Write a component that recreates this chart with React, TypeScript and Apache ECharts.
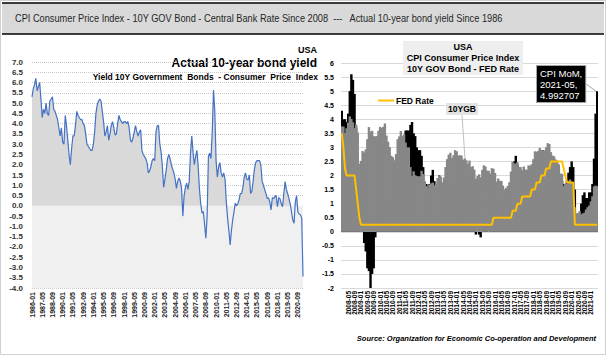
import React, { useEffect, useRef } from 'react';
import * as echarts from 'echarts';

const TITLE = 'CPI Consumer Price Index - 10Y GOV Bond - Central Bank Rate Since 2008  ---   Actual 10-year bond yield Since 1986';
const NARROW = '"Liberation Sans Narrow", "Liberation Sans", Arial, sans-serif';

function monthLabels(y0: number, count: number, step: number): string[] {
  const out: string[] = [];
  for (let i = 0; i < count; i++) {
    const m = i * step;
    const y = y0 + Math.floor(m / 12);
    const mm = (m % 12) + 1;
    out.push(`${y}-${mm < 10 ? '0' + mm : mm}`);
  }
  return out;
}

// Left chart: actual (real) 10-year bond yield, bimonthly 1986-01 .. 2021-05
const realYieldCategories = monthLabels(1986, 213, 2);
const realYield = [
  5.3, 5.7, 5.9, 6.2, 5.6, 5.8,
  6.0, 5.2, 4.3, 4.7, 4.5, 5.0,
  4.5, 4.4, 5.1, 5.2, 5.3, 4.7,
  4.6, 4.4, 4.2, 3.8, 3.4, 3.8,
  3.1, 3.0, 4.4, 3.9, 3.2, 2.5,
  2.0, 2.8, 3.4, 3.4, 3.9, 4.6,
  4.4, 4.3, 4.2, 4.2, 4.0, 3.9,
  3.5, 3.0, 2.9, 2.8, 2.7, 2.7,
  3.0, 3.6, 4.5, 4.9, 5.1, 5.2,
  5.1, 4.6, 4.1, 3.4, 3.6, 3.9,
  3.2, 3.5, 3.9, 4.1, 3.8, 3.45,
  3.5, 4.0, 4.4, 4.2, 4.1, 4.0,
  4.1, 4.1, 4.0, 4.1, 3.8, 3.2,
  3.1, 3.3, 3.6, 3.9, 3.6, 3.4,
  3.6, 3.7, 2.7, 2.5, 2.4, 2.3,
  2.1, 1.6, 1.7, 1.9, 2.2, 2.3,
  2.2, 3.6, 3.9, 3.9, 3.0, 2.6,
  1.9, 0.9, 1.3, 1.75, 2.3, 2.5,
  2.3, 2.0, 1.8, 1.6, 1.3, 0.85,
  1.2, 1.35, 1.2, 0.85, -0.5, 0.5,
  0.9, 1.1, 0.8, 1.2, 2.6, 3.4,
  2.6, 2.0, 2.4, 2.7, 1.9, 0.8,
  0.1, -0.36, -0.28, -0.9, -1.58, -0.5,
  2.4, 2.56, 2.3, 3.6, 5.64, 4.6,
  2.2, 1.4, 1.9, 2.1, 1.6, 1.4,
  1.6, 1.3, 0.2, -0.6, -1.2, -1.9,
  -1.2, -0.7, -0.3, 0.13, 0.0, 0.1,
  0.3, 0.6, 0.6, 0.9, 1.4, 1.6,
  1.3, 1.25, 1.5, 0.6, 0.7, 1.2,
  1.8, 2.1, 2.2, 2.2, 2.2, 2.0,
  1.2, 1.0, 0.8, 0.6, 0.35, 0.4,
  0.2, -0.2, 0.4, 0.35, 0.45, 0.5,
  -0.04, 0.4, 0.35, 0.1, -0.04, 0.6,
  1.18, 0.8, 0.6, 0.35, 0.1, -0.3,
  -0.69, -0.85, 0.2, 0.5, -0.3, -0.4,
  -0.44, -0.6, -3.44,
];

// Right chart: monthly 2008-01 .. 2021-05
const usCategories = monthLabels(2008, 161, 1);
const cpiYoY = [
  4.3, 4.0, 4.0, 3.9, 4.2, 5.0, 5.6, 5.4, 4.9, 3.7, 1.1, 0.1,
  0.0, 0.2, -0.4, -0.7, -1.3, -1.4, -2.1, -1.5, -1.3, -0.2, 1.8, 2.7,
  2.6, 2.1, 2.3, 2.2, 2.0, 1.1, 1.2, 1.1, 1.1, 1.2, 1.1, 1.5,
  1.6, 2.1, 2.7, 3.2, 3.6, 3.6, 3.6, 3.8, 3.9, 3.5, 3.4, 3.0,
  2.9, 2.9, 2.7, 2.3, 1.7, 1.7, 1.4, 1.7, 2.0, 2.2, 1.8, 1.7,
  1.6, 2.0, 1.5, 1.1, 1.4, 1.8, 2.0, 1.5, 1.2, 1.0, 1.2, 1.5,
  1.6, 1.1, 1.5, 2.0, 2.1, 2.1, 2.0, 1.7, 1.7, 1.7, 1.3, 0.8,
  -0.1, 0.0, -0.1, -0.2, 0.0, 0.1, 0.2, 0.2, 0.0, 0.2, 0.5, 0.7,
  1.4, 1.0, 0.9, 1.1, 1.0, 1.0, 0.8, 1.1, 1.5, 1.6, 1.7, 2.1,
  2.5, 2.7, 2.4, 2.2, 1.9, 1.6, 1.7, 1.9, 2.2, 2.0, 2.2, 2.1,
  2.1, 2.2, 2.4, 2.5, 2.8, 2.9, 2.9, 2.7, 2.3, 2.5, 2.2, 1.9,
  1.6, 1.5, 1.9, 2.0, 1.8, 1.6, 1.8, 1.7, 1.7, 1.8, 2.1, 2.3,
  2.5, 2.3, 1.5, 0.3, 0.1, 0.6, 1.0, 1.3, 1.4, 1.2, 1.2, 1.4,
  1.4, 1.7, 2.6, 4.2, 4.992707,
];
const bond10Y = [
  3.74, 3.74, 3.51, 3.68, 3.88, 4.10, 4.01, 3.89, 3.69, 3.81, 3.53, 2.42,
  2.52, 2.87, 2.82, 2.93, 3.29, 3.72, 3.56, 3.59, 3.40, 3.39, 3.40, 3.59,
  3.73, 3.69, 3.73, 3.85, 3.42, 3.20, 3.01, 2.70, 2.65, 2.54, 2.76, 3.29,
  3.39, 3.58, 3.41, 3.46, 3.17, 3.00, 3.00, 2.30, 1.98, 2.15, 2.01, 1.98,
  1.97, 1.97, 2.17, 2.05, 1.80, 1.62, 1.53, 1.68, 1.72, 1.75, 1.65, 1.72,
  1.91, 1.98, 1.96, 1.76, 1.93, 2.30, 2.58, 2.74, 2.81, 2.62, 2.72, 2.90,
  2.86, 2.71, 2.72, 2.71, 2.56, 2.60, 2.54, 2.42, 2.53, 2.30, 2.33, 2.21,
  1.88, 1.98, 2.04, 1.94, 2.20, 2.36, 2.32, 2.17, 2.17, 2.07, 2.26, 2.24,
  2.09, 1.78, 1.89, 1.81, 1.81, 1.64, 1.50, 1.56, 1.63, 1.76, 2.14, 2.49,
  2.43, 2.42, 2.48, 2.30, 2.30, 2.19, 2.32, 2.21, 2.20, 2.36, 2.35, 2.40,
  2.58, 2.86, 2.84, 2.87, 2.98, 2.91, 2.89, 2.89, 3.00, 3.15, 3.12, 2.83,
  2.71, 2.68, 2.57, 2.53, 2.40, 2.07, 2.06, 1.63, 1.70, 1.71, 1.81, 1.86,
  1.76, 1.50, 0.87, 0.66, 0.67, 0.73, 0.62, 0.65, 0.68, 0.79, 0.87, 0.93,
  1.08, 1.26, 1.61, 1.64, 1.62,
];
const fedRate = [
  3.5, 3.0, 2.25, 2.0, 2.0, 2.0, 2.0, 2.0, 2.0, 1.5, 1.0, 0.5,
  0.25, 0.25, 0.25, 0.25, 0.25, 0.25, 0.25, 0.25, 0.25, 0.25, 0.25, 0.25,
  0.25, 0.25, 0.25, 0.25, 0.25, 0.25, 0.25, 0.25, 0.25, 0.25, 0.25, 0.25,
  0.25, 0.25, 0.25, 0.25, 0.25, 0.25, 0.25, 0.25, 0.25, 0.25, 0.25, 0.25,
  0.25, 0.25, 0.25, 0.25, 0.25, 0.25, 0.25, 0.25, 0.25, 0.25, 0.25, 0.25,
  0.25, 0.25, 0.25, 0.25, 0.25, 0.25, 0.25, 0.25, 0.25, 0.25, 0.25, 0.25,
  0.25, 0.25, 0.25, 0.25, 0.25, 0.25, 0.25, 0.25, 0.25, 0.25, 0.25, 0.25,
  0.25, 0.25, 0.25, 0.25, 0.25, 0.25, 0.25, 0.25, 0.25, 0.25, 0.25, 0.5,
  0.5, 0.5, 0.5, 0.5, 0.5, 0.5, 0.5, 0.5, 0.5, 0.5, 0.5, 0.75,
  0.75, 0.75, 1.0, 1.0, 1.0, 1.25, 1.25, 1.25, 1.25, 1.25, 1.25, 1.5,
  1.5, 1.5, 1.75, 1.75, 1.75, 2.0, 2.0, 2.0, 2.25, 2.25, 2.25, 2.5,
  2.5, 2.5, 2.5, 2.5, 2.5, 2.5, 2.5, 2.25, 2.0, 1.75, 1.75, 1.75,
  1.75, 1.75, 0.25, 0.25, 0.25, 0.25, 0.25, 0.25, 0.25, 0.25, 0.25, 0.25,
  0.25, 0.25, 0.25, 0.25, 0.25,
];

const CPI_LABEL_INDEX = cpiYoY.length - 1;
const BOND_LABEL_INDEX = 78;

export default function App() {
  const ref = useRef<HTMLDivElement>(null);

  useEffect(() => {
    document.body.style.margin = '0';
    if (!ref.current) return;
    const chart = echarts.init(ref.current, undefined, { renderer: 'svg' });

    const cpiData = cpiYoY.map((v, i) =>
      i === CPI_LABEL_INDEX
        ? {
            value: v,
            label: {
              show: true,
              position: 'top',
              formatter: '{a},\n{b},\n{c}',
              color: '#ffffff',
              backgroundColor: '#000000',
              borderColor: '#a6a6a6',
              borderWidth: 1,
              padding: [2, 3, 1, 3],
              fontSize: 9.5,
              lineHeight: 11,
              fontFamily: '"Liberation Sans", Arial, sans-serif',
            },
          }
        : v
    );
    const bondData = bond10Y.map((v, i) =>
      i === BOND_LABEL_INDEX
        ? {
            value: v,
            label: {
              show: true,
              position: 'top',
              formatter: '{a}',
              color: '#000',
              backgroundColor: '#e3e3e3',
              padding: [2, 2, 1, 2],
              fontSize: 8.5,
              fontWeight: 'bold',
              fontFamily: NARROW,
            },
          }
        : v
    );

    chart.setOption({
      animation: false,
      backgroundColor: '#ffffff',
      grid: [
        { left: 32, top: 62, width: 271, height: 226 },
        { left: 341, top: 63, width: 257, height: 225 },
      ],
      legend: {
        data: ['FED Rate'],
        left: 373,
        top: 91,
        icon: 'rect',
        itemWidth: 16,
        itemHeight: 2,
        itemGap: 2,
        textStyle: { fontSize: 8.5, fontWeight: 'bold', fontFamily: NARROW, color: '#000', padding: [0, 0, 0, -3] },
      },
      xAxis: [
        {
          type: 'category',
          gridIndex: 0,
          data: realYieldCategories,
          boundaryGap: false,
          axisLine: { show: false },
          axisTick: { show: false },
          axisLabel: {
            interval: 7,
            rotate: 90,
            fontSize: 7,
            fontWeight: 'bold',
            fontFamily: NARROW,
            color: '#222',
            margin: 4,
          },
        },
        {
          type: 'category',
          gridIndex: 1,
          data: usCategories,
          axisLine: { show: false },
          axisTick: { show: false },
          axisLabel: {
            interval: 3,
            rotate: 90,
            fontSize: 6.5,
            fontWeight: 'bold',
            fontFamily: NARROW,
            color: '#000',
            margin: 3,
          },
        },
      ],
      yAxis: [
        {
          type: 'value',
          gridIndex: 0,
          min: -4,
          max: 7,
          interval: 0.5,
          axisLine: { show: false },
          axisTick: { show: false },
          splitLine: { lineStyle: { color: '#c8c8c8', type: 'dotted', width: 1 } },
          axisLabel: {
            formatter: (v: number) => v.toFixed(1),
            fontSize: 8,
            fontWeight: 'bold',
            fontFamily: NARROW,
            color: '#333',
            margin: 9,
          },
        },
        {
          type: 'value',
          gridIndex: 1,
          min: -2,
          max: 6,
          interval: 0.5,
          axisLine: { show: false },
          axisTick: { show: false },
          splitLine: { lineStyle: { color: '#d9d9d9', width: 1 } },
          axisLabel: {
            fontSize: 7,
            fontWeight: 'bold',
            fontFamily: NARROW,
            color: '#000',
            margin: 7,
          },
        },
      ],
      series: [
        {
          name: 'Positive area',
          type: 'line',
          xAxisIndex: 0,
          yAxisIndex: 0,
          data: realYield.map((v) => Math.max(0, v)),
          symbol: 'none',
          silent: true,
          lineStyle: { width: 0 },
          areaStyle: { color: '#d9d9d9', opacity: 1, origin: 'auto' },
          markArea: {
            silent: true,
            itemStyle: { color: '#f0f0f0' },
            data: [[{ yAxis: -4 }, { yAxis: 0 }]],
          },
          z: 1,
        },
        {
          name: 'Actual 10-year bond yield',
          type: 'line',
          xAxisIndex: 0,
          yAxisIndex: 0,
          data: realYield,
          symbol: 'none',
          lineStyle: { color: '#4472c4', width: 1.2 },
          itemStyle: { color: '#4472c4' },
          z: 3,
        },
        {
          name: 'CPI MoM',
          type: 'bar',
          xAxisIndex: 1,
          yAxisIndex: 1,
          data: cpiData,
          itemStyle: { color: '#000000' },
          barGap: '-100%',
          barWidth: 2.4,
          labelLine: { show: true, lineStyle: { color: '#a6a6a6', width: 1 } },
          labelLayout: (p: any) =>
            p.dataIndex === CPI_LABEL_INDEX ? { x: 537, y: 66, align: 'left', verticalAlign: 'top' } : {},
          z: 2,
        },
        {
          name: '10YGB',
          type: 'bar',
          xAxisIndex: 1,
          yAxisIndex: 1,
          data: bondData,
          itemStyle: { color: '#878787' },
          barGap: '-100%',
          barWidth: 2.4,
          labelLine: { show: true, lineStyle: { color: '#bfbfbf', width: 1 } },
          labelLayout: (p: any) =>
            p.dataIndex === BOND_LABEL_INDEX ? { x: 462, y: 109, align: 'center', verticalAlign: 'middle' } : {},
          z: 3,
        },
        {
          name: 'FED Rate',
          type: 'line',
          xAxisIndex: 1,
          yAxisIndex: 1,
          data: fedRate,
          symbol: 'none',
          lineStyle: { color: '#ffc000', width: 2 },
          itemStyle: { color: '#ffc000' },
          z: 4,
        },
      ],
      graphic: [
        { type: 'rect', shape: { x: 0.5, y: 0.5, width: 605, height: 354 }, style: { fill: 'none', stroke: '#d0d0d0', lineWidth: 1 }, silent: true },
        { type: 'rect', shape: { x: 2, y: 3, width: 602, height: 31 }, style: { fill: '#d9d9d9' }, silent: true },
        { type: 'line', shape: { x1: 2, y1: 3, x2: 604, y2: 3 }, style: { stroke: '#000', lineWidth: 1.5 }, silent: true },
        { type: 'line', shape: { x1: 2, y1: 34, x2: 604, y2: 34 }, style: { stroke: '#000', lineWidth: 1.5 }, silent: true },
        {
          type: 'text', x: 15, y: 18, scaleX: 0.84, silent: true,
          style: { text: TITLE, fill: '#262626', fontSize: 11, fontFamily: NARROW, verticalAlign: 'middle', align: 'left' },
        },
        {
          type: 'text', x: 317, y: 50, silent: true,
          style: { text: 'USA', fill: '#000', fontSize: 9, fontWeight: 'bold', fontFamily: NARROW, align: 'right', verticalAlign: 'middle' },
        },
        {
          type: 'text', x: 317, y: 63, silent: true,
          style: { text: 'Actual 10-year bond yield', fill: '#000', fontSize: 12, fontWeight: 'bold', fontFamily: NARROW, align: 'right', verticalAlign: 'middle' },
        },
        {
          type: 'text', x: 318, y: 77, silent: true,
          style: { text: 'Yield 10Y Government  Bonds  - Consumer  Price  Index', fill: '#000', fontSize: 8.5, fontWeight: 'bold', fontFamily: NARROW, align: 'right', verticalAlign: 'middle' },
        },
        { type: 'rect', shape: { x: 403, y: 41, width: 120, height: 34 }, style: { fill: '#eeeeee' }, silent: true, z: 10 },
        {
          type: 'text', x: 463, y: 58, silent: true, z: 11,
          style: {
            text: 'USA\nCPI Consumer Price Index\n10Y GOV Bond - FED Rate',
            fill: '#000', fontSize: 9, lineHeight: 11, fontWeight: 'bold', fontFamily: NARROW, align: 'center', verticalAlign: 'middle',
          },
        },
        {
          type: 'text', x: 596, y: 338, silent: true,
          style: { text: 'Source: Organization for Economic Co-operation and Development', fill: '#000', fontSize: 7.5, fontStyle: 'italic', fontWeight: 'bold', fontFamily: NARROW, align: 'right', verticalAlign: 'middle' },
        },
      ],
    });

    return () => chart.dispose();
  }, []);

  return <div ref={ref} style={{ width: 606, height: 355 }} />;
}
